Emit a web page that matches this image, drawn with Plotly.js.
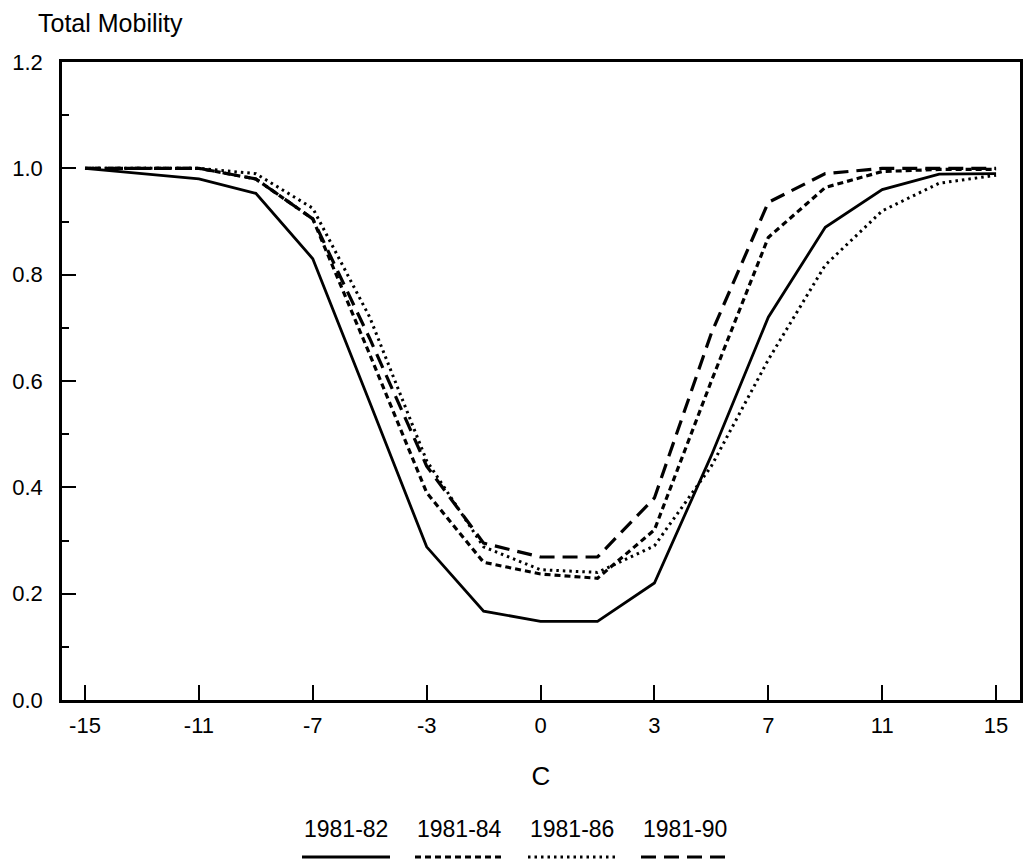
<!DOCTYPE html>
<html>
<head>
<meta charset="utf-8">
<script src="https://cdn.plot.ly/plotly-3.0.1.min.js"></script>
<style>
  html, body { margin: 0; padding: 0; background: #fff; }
  #chart { width: 1023px; height: 867px; }
</style>
</head>
<body>
<div id="chart"></div>
<script>
// Category positions along the C axis (evenly spaced in the figure)
var cValues = ['-15', '-13', '-11', '-9', '-7', '-5', '-3', '-1.5', '0', '1.5', '3', '5', '7', '9', '11', '13', '15'];
var tickLabels = ['-15', '-11', '-7', '-3', '0', '3', '7', '11', '15'];

var seriesNames = ['1981-82', '1981-84', '1981-86', '1981-90'];

var mob8182 = [1.00, 0.99, 0.98, 0.953, 0.83, 0.56, 0.288, 0.167, 0.148, 0.148, 0.22, 0.46, 0.72, 0.889, 0.96, 0.989, 0.99];
var mob8184 = [1.00, 1.00, 1.00, 0.98, 0.905, 0.65, 0.39, 0.259, 0.237, 0.229, 0.32, 0.60, 0.87, 0.964, 0.994, 0.998, 0.998];
var mob8186 = [1.00, 1.00, 1.00, 0.99, 0.925, 0.72, 0.45, 0.288, 0.245, 0.240, 0.29, 0.44, 0.64, 0.818, 0.92, 0.972, 0.987];
var mob8190 = [1.00, 1.00, 1.00, 0.98, 0.905, 0.68, 0.44, 0.295, 0.269, 0.269, 0.38, 0.69, 0.936, 0.99, 1.00, 1.00, 1.00];

var seriesValues = [mob8182, mob8184, mob8186, mob8190];
var lineStyles = [
  {dash: 'solid', width: 2.8},
  {dash: '6px,4px', width: 3.2},
  {dash: '2.5px,4px', width: 3},
  {dash: '15px,8px', width: 3.2}
];

var FONT = 'Liberation Sans, Arial, Helvetica, sans-serif';

var traces = seriesNames.map(function (name, i) {
  return {
    type: 'scatter',
    mode: 'lines',
    name: name,
    x: cValues,
    y: seriesValues[i],
    line: {color: '#000', width: lineStyles[i].width, dash: lineStyles[i].dash},
    showlegend: false,
    hoverinfo: 'x+y+name'
  };
});

// Custom legend: label above a line sample, laid out horizontally below the chart
var plotL = 62, plotR = 1020, plotT = 62, plotB = 700;
function px2paperX(px) { return (px - plotL) / (plotR - plotL); }
function px2paperY(py) { return (plotB - py) / (plotB - plotT); }

var legendStart = 302, legendStep = 113, legendSampleW = 88;
var shapes = [];
var annotations = [];
seriesNames.forEach(function (name, i) {
  var x0 = legendStart + i * legendStep;
  shapes.push({
    type: 'line', xref: 'paper', yref: 'paper',
    x0: px2paperX(x0), x1: px2paperX(x0 + legendSampleW),
    y0: px2paperY(857), y1: px2paperY(857),
    line: {color: '#000', width: lineStyles[i].width, dash: lineStyles[i].dash}
  });
  annotations.push({
    xref: 'paper', yref: 'paper',
    x: px2paperX(x0 + legendSampleW / 2), y: px2paperY(829),
    text: name, showarrow: false,
    xanchor: 'center', yanchor: 'middle',
    font: {family: FONT, size: 23, color: '#000'}
  });
});

annotations.push({
  xref: 'paper', yref: 'paper',
  x: px2paperX(36), y: px2paperY(23),
  text: 'Total Mobility', showarrow: false,
  xanchor: 'left', yanchor: 'middle',
  font: {family: FONT, size: 25, color: '#000'}
});

var layout = {
  width: 1023, height: 867,
  margin: {l: plotL, r: 1023 - plotR, t: plotT, b: 867 - plotB, pad: 0},
  paper_bgcolor: '#fff', plot_bgcolor: '#fff',
  font: {family: FONT, size: 23, color: '#000'},
  xaxis: {
    type: 'category',
    categoryorder: 'array', categoryarray: cValues,
    range: [-0.404, 16.42],
    tickmode: 'array', tickvals: tickLabels, ticktext: tickLabels,
    ticks: 'inside', ticklen: 15, tickwidth: 1.5, tickcolor: '#000',
    showgrid: false, zeroline: false,
    showline: true, linecolor: '#000', linewidth: 2.5, mirror: true,
    ticklabelstandoff: 4,
    tickfont: {family: FONT, size: 22, color: '#000'},
    title: {text: 'C', font: {family: FONT, size: 26, color: '#000'}, standoff: 30}
  },
  yaxis: {
    range: [0, 1.2],
    tickmode: 'array',
    tickvals: [0, 0.2, 0.4, 0.6, 0.8, 1.0, 1.2],
    ticktext: ['0.0', '0.2', '0.4', '0.6', '0.8', '1.0', '1.2'],
    ticks: 'inside', ticklen: 14, tickwidth: 1.5, tickcolor: '#000',
    minor: {tickmode: 'array', tickvals: [0.1, 0.3, 0.5, 0.7, 0.9, 1.1], ticks: 'inside', ticklen: 7, tickwidth: 1.5, tickcolor: '#000', showgrid: false},
    showgrid: false, zeroline: false,
    showline: true, linecolor: '#000', linewidth: 2.5, mirror: true,
    ticklabelstandoff: 12,
    tickfont: {family: FONT, size: 22, color: '#000'}
  },
  shapes: shapes,
  annotations: annotations,
  showlegend: false
};

Plotly.newPlot('chart', traces, layout, {displayModeBar: false, staticPlot: false});
</script>
</body>
</html>
